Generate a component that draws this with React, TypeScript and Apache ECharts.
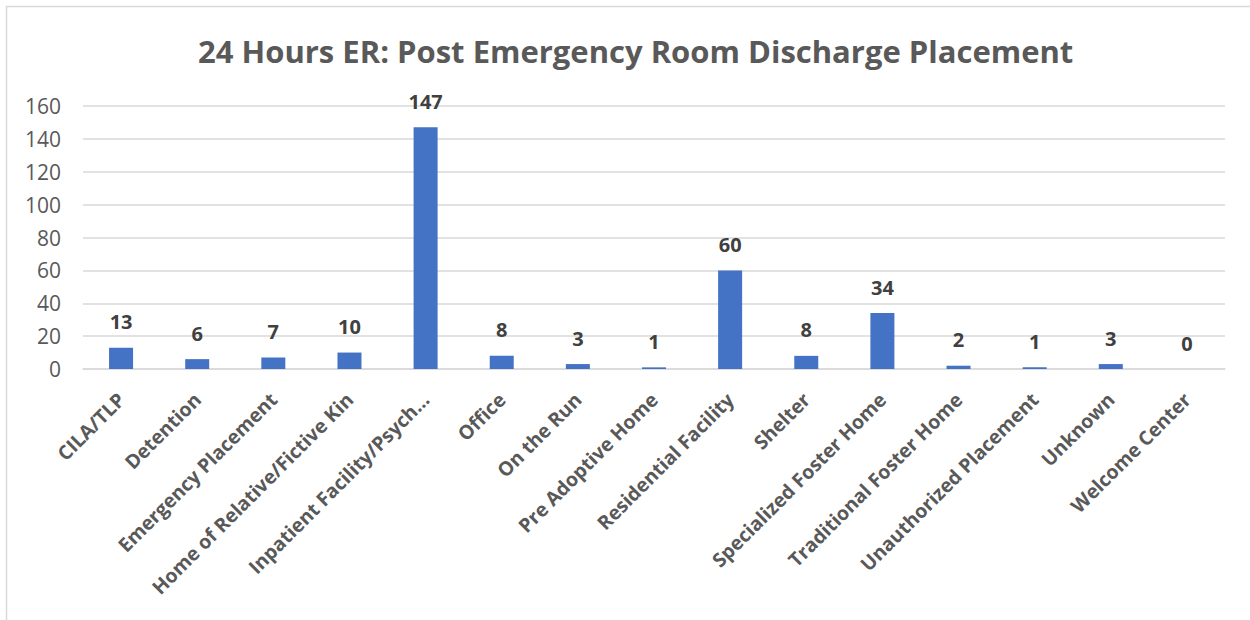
import React, { useEffect, useRef } from "react";
import * as echarts from "echarts";

const categories = [
  "CILA/TLP",
  "Detention",
  "Emergency Placement",
  "Home of Relative/Fictive Kin",
  "Inpatient Facility/Psych…",
  "Office",
  "On the Run",
  "Pre Adoptive Home",
  "Residential Facility",
  "Shelter",
  "Specialized Foster Home",
  "Traditional Foster Home",
  "Unauthorized Placement",
  "Unknown",
  "Welcome Center",
];
const values = [13, 6, 7, 10, 147, 8, 3, 1, 60, 8, 34, 2, 1, 3, 0];
const title = "24 Hours ER: Post Emergency Room Discharge Placement";

const FONT = "'Open Sans', 'Noto Sans', sans-serif";

export default function App() {
  const ref = useRef<HTMLDivElement>(null);
  useEffect(() => {
    if (!ref.current) return;
    const chart = echarts.init(ref.current, undefined, { renderer: "svg" });
    chart.setOption({
      animation: false,
      backgroundColor: "#ffffff",
      title: {
        text: title,
        left: 193,
        top: 30,
        textStyle: {
          fontFamily: FONT,
          fontSize: 31,
          fontWeight: "bold",
          color: "#595959",
        },
      },
      graphic: [
        {
          type: "rect",
          shape: { x: 6.5, y: 6.5, width: 1400, height: 800 },
          style: { fill: "none", stroke: "#d9d9d9", lineWidth: 1.5 },
          silent: true,
        },
      ],
      grid: { left: 83, right: 25, top: 106, bottom: 251 },
      xAxis: {
        type: "category",
        data: categories,
        axisLine: { lineStyle: { color: "#d9d9d9", width: 1.5 } },
        axisTick: { show: false },
        axisLabel: {
          rotate: 45,
          interval: 0,
          margin: 27,
          fontFamily: FONT,
          fontSize: 19.5,
          fontWeight: "bold",
          color: "#595959",
        },
      },
      yAxis: {
        type: "value",
        min: 0,
        max: 160,
        interval: 20,
        axisLine: { show: false },
        axisTick: { show: false },
        splitLine: { lineStyle: { color: "#d9d9d9", width: 1.5 } },
        axisLabel: {
          margin: 22,
          fontFamily: FONT,
          fontSize: 21,
          color: "#595959",
        },
      },
      series: [
        {
          type: "bar",
          data: values,
          barWidth: 24,
          itemStyle: { color: "#4472C4" },
          label: {
            show: true,
            position: "top",
            distance: 16,
            fontFamily: FONT,
            fontSize: 20,
            fontWeight: "bold",
            color: "#404040",
          },
        },
      ],
    });
    return () => chart.dispose();
  }, []);
  return (
    <div
      ref={ref}
      style={{ position: "fixed", left: 0, top: 0, width: 1250, height: 620 }}
    />
  );
}
